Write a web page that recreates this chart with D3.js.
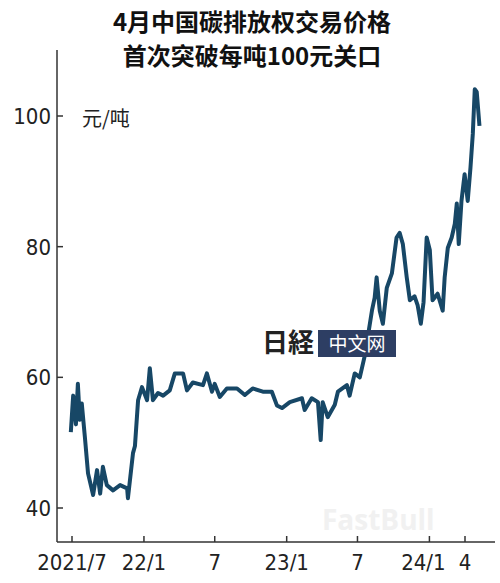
<!DOCTYPE html>
<html><head><meta charset="utf-8">
<script src="https://cdn.jsdelivr.net/npm/d3@7"></script>
<style>body{margin:0;background:#fff}svg{display:block}</style>
</head><body><svg id="c" width="500" height="583"></svg>
<script>
// Carbon emission allowance price, yuan/ton
const dates = ["2021-06-28","2021-07-04","2021-07-11","2021-07-16","2021-07-21","2021-07-26","2021-08-03","2021-08-11","2021-08-24","2021-09-03","2021-09-11","2021-09-18","2021-09-28","2021-10-14","2021-11-01","2021-11-19","2021-11-21","2021-12-04","2021-12-09","2021-12-17","2021-12-27","2022-01-09","2022-01-16","2022-01-24","2022-02-06","2022-02-19","2022-03-08","2022-03-21","2022-04-11","2022-04-21","2022-05-06","2022-06-01","2022-06-11","2022-06-24","2022-07-01","2022-07-14","2022-08-01","2022-08-27","2022-09-16","2022-10-06","2022-11-01","2022-11-24","2022-12-07","2022-12-20","2023-01-09","2023-02-09","2023-02-16","2023-03-06","2023-03-22","2023-03-29","2023-04-03","2023-04-16","2023-05-04","2023-05-12","2023-06-04","2023-06-11","2023-06-24","2023-07-07","2023-07-20","2023-08-07","2023-08-14","2023-08-19","2023-08-27","2023-09-04","2023-09-14","2023-09-27","2023-10-09","2023-10-17","2023-10-25","2023-11-04","2023-11-12","2023-11-24","2023-12-02","2023-12-10","2023-12-17","2023-12-25","2024-01-02","2024-01-09","2024-01-22","2024-02-04","2024-02-09","2024-02-17","2024-02-27","2024-03-06","2024-03-11","2024-03-16","2024-03-23","2024-03-31","2024-04-08","2024-04-15","2024-04-21","2024-04-26","2024-05-01","2024-05-08"];
const prices = [51.6,57.2,52.8,59,53.5,56,50.8,45.3,42,45.8,42.2,46.3,43.5,42.7,43.5,43,41.5,48.4,49.5,56.5,58.5,56.5,61.4,56.5,57.6,57.2,58,60.6,60.6,58,59.2,58.8,60.6,57.8,59,57,58.3,58.3,57.3,58.3,57.8,57.8,55.7,55.3,56.2,56.8,55,56.8,56.2,50.4,56.2,53.9,55.8,57.8,58.8,57.2,60.6,60,63.4,70.2,72.2,75.3,70.2,68.2,73.7,75.9,81.4,82.1,80.4,75.3,71.8,72.4,71,68.2,71.5,81.4,79.5,71.8,72.8,70.2,75.3,79.8,81.4,83.5,86.6,80.4,87,91.1,87,92.1,97.3,104.1,103.7,98.5];
const yTicks = [40, 60, 80, 100];
const xTickDates = ["2021-07-01","2022-01-01","2022-07-01","2023-01-01","2023-07-01","2024-01-01","2024-04-01"];
const xTickLabels = ["2021/7","22/1","7","23/1","7","24/1","4"];

const parse = d3.timeParse("%Y-%m-%d");
const data = dates.map((d, i) => ({ date: parse(d), v: prices[i] }));

const svg = d3.select("#c");
const font = "'DejaVu Sans Condensed','DejaVu Sans',sans-serif";
const padLeft = 57, padRight = 495, padTop = 50, padBottom = 542;

const x = d3.scaleTime().domain([parse("2021-07-01"), parse("2024-04-01")]).range([72, 465]);
const y = d3.scaleLinear().domain([40, 100]).range([508, 116]);

// title
svg.append("g").selectAll("text").data(["4月中国碳排放权交易价格", "首次突破每吨100元关口"]).join("text")
  .attr("x", 252).attr("y", (d, i) => 31 + i * 34).attr("text-anchor", "middle")
  .attr("font-family", "'Noto Sans CJK SC',sans-serif").attr("font-weight", "bold")
  .attr("font-size", 24).attr("fill", "#111").text(d => d);

// axes
svg.append("line").attr("x1", padLeft).attr("x2", padLeft).attr("y1", padTop).attr("y2", padBottom).attr("stroke", "#333").attr("stroke-width", 1.5);
svg.append("line").attr("x1", padLeft).attr("x2", padRight).attr("y1", padBottom).attr("y2", padBottom).attr("stroke", "#333").attr("stroke-width", 1.5);

const yg = svg.append("g").selectAll("g").data(yTicks).join("g");
yg.append("line").attr("x1", padLeft).attr("x2", padLeft + 6).attr("y1", d => y(d)).attr("y2", d => y(d)).attr("stroke", "#333").attr("stroke-width", 1.5);
yg.append("text").attr("x", 51).attr("y", d => y(d) + 8).attr("text-anchor", "end")
  .attr("font-family", font).attr("font-size", 22).attr("fill", "#222").text(d => d);

const xg = svg.append("g").selectAll("g").data(xTickDates).join("g");
xg.append("line").attr("x1", d => x(parse(d))).attr("x2", d => x(parse(d))).attr("y1", padBottom).attr("y2", padBottom - 6).attr("stroke", "#333").attr("stroke-width", 1.5);
xg.append("text").attr("x", (d, i) => x(parse(d)) + (i === 5 ? -6 : 0)).attr("y", 570).attr("text-anchor", "middle")
  .attr("font-family", font).attr("font-size", 22).attr("fill", "#222").text((d, i) => xTickLabels[i]);

svg.append("text").attr("x", 82).attr("y", 126).attr("font-family", "'Noto Sans CJK SC',sans-serif")
  .attr("font-size", 20).attr("fill", "#222").text("元/吨");

// price line
svg.append("path").datum(data)
  .attr("fill", "none").attr("stroke", "#174766").attr("stroke-width", 4).attr("stroke-linejoin", "round")
  .attr("d", d3.line().x(d => x(d.date)).y(d => y(d.v)));

// watermarks
svg.append("rect").attr("x", 318).attr("y", 330).attr("width", 78).attr("height", 27).attr("fill", "#2d3e63");
svg.append("text").attr("x", 357).attr("y", 351).attr("text-anchor", "middle").attr("font-family", "'Noto Sans CJK SC',sans-serif")
  .attr("font-size", 19).attr("fill", "#fff").text("中文网");
svg.append("text").attr("x", 314).attr("y", 352).attr("text-anchor", "end").attr("font-family", "'Noto Sans CJK JP',serif")
  .attr("font-size", 26).attr("font-weight", "bold").attr("fill", "#222").text("日経");
svg.append("text").attr("x", 322).attr("y", 530).attr("font-family", "'Open Sans',sans-serif")
  .attr("font-size", 28).attr("font-weight", "bold").attr("fill", "#eee").attr("opacity", 0.8).text("FastBull");
</script></body></html>
